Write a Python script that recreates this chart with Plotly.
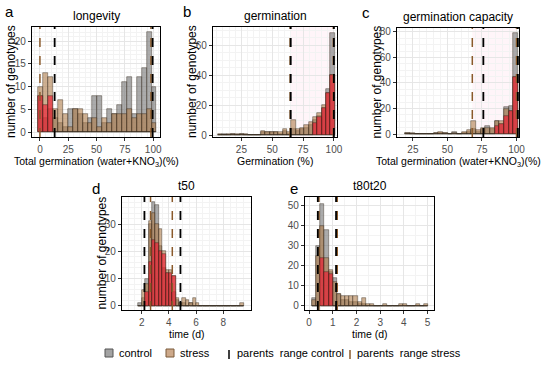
import plotly.graph_objects as go

# ---------------- data ----------------
# panel a: longevity (bin width 4.35)
a_centers = [0.675 + 4.35 * k for k in range(24)]
a_control = [8, 3, 5, 3, 2, 1, 5, 5, 4, 2, 3, 8, 8, 2, 5, 4, 6, 11, 12, 4, 12, 14, 22, 10]
a_stress = [10, 13, 12, 5, 7, 4, 1, 5, 5, 4, 2, 3, 1, 3, 2, 4, 4, 4, 5, 3, 4, 4, 5, 2]
a_red = [8, 6, 8, 0, 0, 0, 0, 0, 0, 0, 0, 0, 0, 0, 0, 0, 0, 0, 0, 0, 0, 0, 0, 0]

# panel b: germination (bin width 3.5)
b_centers = [7.75 + 3.5 * k for k in range(27)]
b_control = [0, 1, 0, 1, 0, 1, 0, 0, 0, 0, 2, 2, 2, 2, 1, 3, 1, 4, 3, 4, 5, 7, 10, 13, 18, 31, 68]
b_stress = [1, 0, 1, 1, 1, 1, 1, 0, 0, 0, 3, 2, 2, 2, 2, 4, 2, 10, 4, 5, 7, 9, 12, 15, 20, 28, 40]
b_red = [0] * 22 + [8, 12, 18, 28, 40]

# panel c: germination capacity (bin width 3.4)
c_centers = [21.3 + 3.4 * k for k in range(24)]
c_control = [1, 0, 0, 0, 0, 0, 1, 1, 1, 0, 2, 0, 1, 2, 4, 2, 4, 6, 4, 10, 8, 21, 22, 79]
c_stress = [1, 1, 0, 0, 0, 0, 1, 2, 1, 0, 1, 0, 2, 3, 10, 3, 5, 5, 5, 10, 10, 20, 18, 45]
c_red = [0] * 19 + [6, 8, 14, 18, 45]

# panel d: t50 (bin width 0.25)
d_centers = [1.875 + 0.25 * k for k in range(31)]
d_control = [1, 3, 10, 30, 38, 37, 22, 14, 12, 8, 5, 2, 1, 1, 0, 1, 0, 0, 0, 0, 0, 0, 0, 0, 0, 0, 0, 0, 0, 0, 0]
d_stress = [0, 6, 8, 31, 34, 30, 28, 20, 13, 13, 11, 3, 1, 3, 2, 1, 3, 1, 0, 0, 0, 0, 0, 0, 0, 0, 0, 0, 0, 0, 1]
d_red = [0, 0, 5, 16, 24, 23, 20, 19, 12, 12, 11, 0, 0, 0, 0, 0, 0, 0, 0, 0, 0, 0, 0, 0, 0, 0, 0, 0, 0, 0, 0]

# panel e: t80t20 (bin width 0.175)
e_centers = [0.2125 + 0.175 * k for k in range(28)]
e_control = [4, 30, 51, 38, 17, 14, 6, 3, 3, 2, 2, 1, 1, 0, 0, 0, 0, 0, 0, 0, 0, 0, 0, 0, 0, 0, 0, 0]
e_stress = [3, 25, 40, 24, 18, 12, 6, 5, 5, 5, 5, 2, 4, 1, 1, 0, 0, 1, 0, 0, 0, 1, 1, 0, 0, 1, 0, 1]
e_red = [0, 0, 24, 17, 16, 0, 0, 0, 0, 0, 0, 0, 0, 0, 0, 0, 0, 0, 0, 0, 0, 0, 0, 0, 0, 0, 0, 0]

# parents ranges (control = black, stress = brown)
a_par_control = [13, 99.5]
a_par_stress = [0, 98]
b_par_control = [65, 100]
b_par_stress = [64.5, 99.5]
c_par_control = [76, 101]
c_par_stress = [68, 100]
d_par_control = [2.2, 4.85]
d_par_stress = [2.65, 4.25]
e_par_control = [0.37, 1.14]
e_par_stress = [0.42, 1.19]

titles = ["longevity", "germination", "germination capacity", "t50", "t80t20"]
letters = ["a", "b", "c", "d", "e"]

# ---------------- layout geometry ----------------
W, H = 550, 365
def xd(l, r):
    return [l / W, r / W]
def yd(t, b):
    return [1 - b / H, 1 - t / H]

panels = [
    dict(c=a_centers, ctl=a_control, st=a_stress, red=a_red, w=4.35,
         pc=a_par_control, ps=a_par_stress, xr=[-7, 106], yr=[-1.1, 23.1],
         xt=[0, 25, 50, 75, 100], yt=[0, 5, 10, 15, 20], dom=(32, 160, 27, 137),
         xtitle="Total germination (water+KNO<sub>3</sub>)(%)", ytitle=True, shade=False),
    dict(c=b_centers, ctl=b_control, st=b_stress, red=b_red, w=3.5,
         pc=b_par_control, ps=b_par_stress, xr=[2, 102.5], yr=[-1.3, 72],
         xt=[25, 50, 75, 100], yt=[0, 20, 40, 60], dom=(213, 337, 27, 137),
         xtitle="Germination (%)", ytitle=True, shade=True),
    dict(c=c_centers, ctl=c_control, st=c_stress, red=c_red, w=3.4,
         pc=c_par_control, ps=c_par_stress, xr=[13.5, 101.8], yr=[-2.3, 83],
         xt=[25, 50, 75, 100], yt=[0, 20, 40, 60, 80], dom=(397, 519, 28, 137),
         xtitle="Total germination (water+KNO<sub>3</sub>)(%)", ytitle=True, shade=True),
    dict(c=d_centers, ctl=d_control, st=d_stress, red=d_red, w=0.25,
         pc=d_par_control, ps=d_par_stress, xr=[0.55, 10.04], yr=[-1.5, 39.9],
         xt=[2, 4, 6, 8], yt=[0, 10, 20, 30], dom=(122, 251, 197, 310),
         xtitle="time (d)", ytitle=True, shade=False),
    dict(c=e_centers, ctl=e_control, st=e_stress, red=e_red, w=0.175,
         pc=e_par_control, ps=e_par_stress, xr=[-0.17, 5.27], yr=[-2.1, 54.3],
         xt=[0, 1, 2, 3, 4, 5], yt=[0, 10, 20, 30, 40, 50], dom=(305, 434, 197, 310),
         xtitle="time (d)", ytitle=False, shade=False),
]

CTRL = "rgba(115,115,115,0.6)"
STRESS = "rgba(175,125,75,0.6)"
RED = "rgba(245,10,40,0.58)"
OUTLINE = "rgba(50,40,30,0.7)"
BROWN = "#8a5a2b"
FONT = "Liberation Sans, Arial, sans-serif"

fig = go.Figure()
shapes = []
annotations = []
layout = {}

for i, p in enumerate(panels):
    n = "" if i == 0 else str(i + 1)
    xa, ya = "x" + n, "y" + n
    l, r, t, b = p["dom"]
    if p["shade"]:
        shapes.append(dict(type="rect", xref=xa, yref=ya + " domain", x0=min(p["ps"]),
                           x1=max(p["ps"]), y0=0, y1=1, fillcolor="rgba(255,60,140,0.05)",
                           line=dict(width=0), layer="below"))
    for vals, col in ((p["ctl"], CTRL), (p["st"], STRESS), (p["red"], RED)):
        fig.add_trace(go.Bar(
            x=p["c"], y=vals, width=p["w"], xaxis=xa, yaxis=ya,
            marker=dict(color=col, line=dict(color=OUTLINE, width=0.6)),
            showlegend=False, hoverinfo="skip"))
    common = dict(showline=True, mirror=True, linecolor="black", linewidth=1.2,
                  showgrid=True, gridcolor="#e6e6e6", gridwidth=0.8,
                  minor=dict(showgrid=True, gridcolor="#f3f3f3", gridwidth=0.5),
                  ticks="outside", ticklen=3, tickcolor="#333333",
                  tickfont=dict(size=10, color="#4d4d4d", family=FONT),
                  zeroline=False, automargin=False)
    layout["xaxis" + n] = dict(common, domain=xd(l, r), range=p["xr"], tickvals=p["xt"],
                               anchor=ya, ticklabelstandoff=0)
    layout["yaxis" + n] = dict(common, domain=yd(t, b), range=p["yr"], tickvals=p["yt"],
                               anchor=xa)
    # zero-height baseline
    nz = [c for c, v1, v2 in zip(p["c"], p["ctl"], p["st"]) if v1 or v2]
    shapes.append(dict(type="line", xref=xa, yref=ya, x0=min(nz) - p["w"] / 2,
                       x1=max(nz) + p["w"] / 2, y0=0, y1=0,
                       line=dict(color="rgba(90,90,90,0.8)", width=0.8), layer="below"))
    # parents ranges
    for xv in p["ps"]:
        shapes.append(dict(type="line", xref=xa, yref=ya + " domain", x0=xv, x1=xv, y0=0, y1=1,
                           line=dict(color=BROWN, width=1.5, dash="dash")))
    for xv in p["pc"]:
        shapes.append(dict(type="line", xref=xa, yref=ya + " domain", x0=xv, x1=xv, y0=0, y1=1,
                           line=dict(color="black", width=1.8, dash="dash")))
    # title
    annotations.append(dict(text=titles[i], xref="paper", yref="paper",
                            x=(l + r) / 2 / W, y=1 - (t - 2) / H, xanchor="center", yanchor="bottom",
                            showarrow=False, font=dict(size=12, color="black", family=FONT)))
    # x title (top edge placed just below the tick-label band)
    annotations.append(dict(text=p["xtitle"], xref="paper", yref="paper",
                            x=(l + r) / 2 / W, y=1 - (b + 16) / H, xanchor="center", yanchor="top",
                            showarrow=False, font=dict(size=10.5, color="black", family=FONT)))
    if p["ytitle"]:
        annotations.append(dict(text="number of genotypes", xref="paper", yref="paper",
                                x=(l - 21) / W, y=1 - (t + b) / 2 / H, xanchor="center", yanchor="middle",
                                textangle=-90, showarrow=False,
                                font=dict(size=12, color="black", family=FONT)))

# panel letters
for txt, (px, py) in zip(letters, [(9, 12), (187, 12), (366, 13), (96, 188), (294, 188)]):
    annotations.append(dict(text=txt, xref="paper", yref="paper", x=px / W, y=1 - py / H,
                            xanchor="center", yanchor="middle", showarrow=False,
                            font=dict(size=15, color="black", family=FONT)))

# custom legend
ly = 353
shapes.append(dict(type="rect", xref="paper", yref="paper", x0=105 / W, x1=113 / W,
                   y0=1 - 357 / H, y1=1 - 349 / H, fillcolor="rgba(140,140,140,0.8)",
                   line=dict(color="#555555", width=1)))
shapes.append(dict(type="rect", xref="paper", yref="paper", x0=166 / W, x1=174 / W,
                   y0=1 - 357 / H, y1=1 - 349 / H, fillcolor="rgba(200,160,125,0.9)",
                   line=dict(color="#7a5a3a", width=1)))
shapes.append(dict(type="line", xref="paper", yref="paper", x0=229 / W, x1=229 / W,
                   y0=1 - 359 / H, y1=1 - 346 / H, line=dict(color="black", width=1.5, dash="dash")))
shapes.append(dict(type="line", xref="paper", yref="paper", x0=350 / W, x1=350 / W,
                   y0=1 - 359 / H, y1=1 - 346 / H, line=dict(color=BROWN, width=1.5, dash="dash")))
for txt, px in [("control", 117), ("stress", 178), ("parents  range control", 235),
                ("parents  range stress", 355)]:
    annotations.append(dict(text=txt, xref="paper", yref="paper", x=px / W, y=1 - ly / H,
                            xanchor="left", yanchor="middle", showarrow=False,
                            font=dict(size=11, color="black", family=FONT)))

fig.update_layout(
    width=W, height=H, margin=dict(l=0, r=0, t=0, b=0),
    paper_bgcolor="white", plot_bgcolor="white", barmode="overlay",
    bargap=0, shapes=shapes, annotations=annotations, showlegend=False,
    font=dict(family=FONT), **layout)

fig.write_html("out.html", config={"displayModeBar": False},
               post_script="document.body.style.margin='0';document.body.style.padding='0';")
